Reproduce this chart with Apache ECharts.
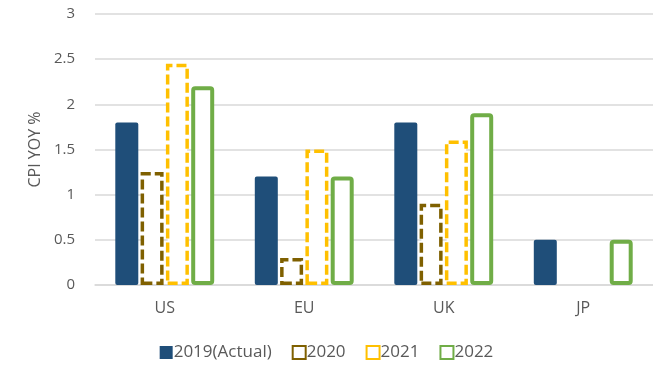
<!DOCTYPE html>
<html><head><meta charset="utf-8">
<script src="https://cdn.jsdelivr.net/npm/echarts@6/dist/echarts.min.js"></script>
<style>html,body{margin:0;padding:0;background:#fff}#c{width:653px;height:371px}</style>
</head><body><div id="c"></div>
<script>
const categories = ['US', 'EU', 'UK', 'JP'];
const s2019 = [1.8, 1.2, 1.8, 0.5];
const s2020 = [1.25, 0.3, 0.9, null];
const s2021 = [2.45, 1.5, 1.6, null];
const s2022 = [2.2, 1.2, 1.9, 0.5];
const yTicks = [0, 0.5, 1, 1.5, 2, 2.5, 3];

const font = 'Open Sans';
const chart = echarts.init(document.getElementById('c'));
chart.setOption({
  animation: false,
  textStyle: { fontFamily: font },
  grid: { left: 95, right: -2, top: 14, bottom: 86 },
  legend: {
    bottom: 5, left: 'center',
    itemWidth: 13, itemHeight: 13, itemGap: 20,
    textStyle: { color: '#595959', fontSize: 17, fontFamily: font, padding: [0,0,0,-4] },
    data: [
      { name: '2019(Actual)', icon: 'rect' },
      { name: '2020', icon: 'rect' },
      { name: '2021', icon: 'rect' },
      { name: '2022', icon: 'rect' }
    ]
  },
  xAxis: {
    type: 'category', data: categories,
    axisLine: { lineStyle: { color: '#d9d9d9', width: 1.5 } },
    axisTick: { show: false },
    axisLabel: { color: '#595959', fontSize: 16, margin: 15 }
  },
  yAxis: {
    type: 'value', min: 0, max: 3, interval: 0.5,
    name: 'CPI YOY %', nameLocation: 'middle', nameGap: 50, nameRotate: 90,
    nameTextStyle: { color: '#595959', fontSize: 16 },
    axisLabel: { color: '#595959', fontSize: 15, margin: 20,
      formatter: v => yTicks.includes(v) ? String(v) : '' },
    splitLine: { lineStyle: { color: '#d9d9d9', width: 1.5 } }
  },
  series: [
    { name: '2019(Actual)', type: 'bar', data: s2019, barWidth: 23, barGap: '10%',
      itemStyle: { color: '#1F4E79', borderRadius: 2 } },
    { name: '2020', type: 'bar', data: s2020, barWidth: 23,
      itemStyle: { color: '#ffffff', borderColor: '#7F6000', borderWidth: 3.5, borderType: [10, 4] } },
    { name: '2021', type: 'bar', data: s2021, barWidth: 23,
      itemStyle: { color: '#ffffff', borderColor: '#FFC000', borderWidth: 3.5, borderType: [10, 4] } },
    { name: '2022', type: 'bar', data: s2022, barWidth: 23,
      itemStyle: { color: '#ffffff', borderColor: '#70AD47', borderWidth: 4, borderRadius: 2 } }
  ]
});
</script></body></html>
